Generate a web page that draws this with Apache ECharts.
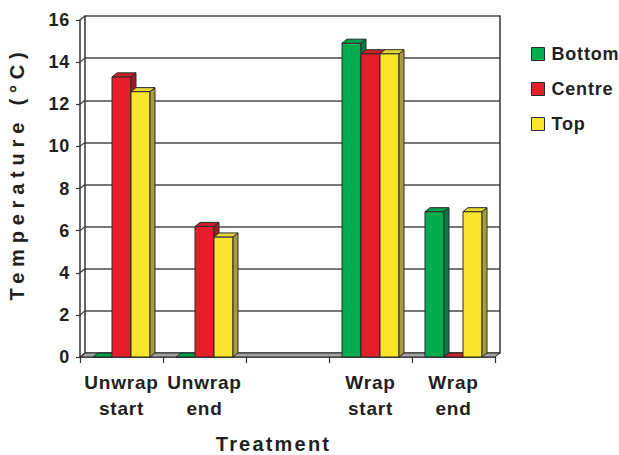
<!DOCTYPE html>
<html>
<head>
<meta charset="utf-8">
<script src="https://cdn.jsdelivr.net/npm/echarts@6/dist/echarts.min.js"></script>
<style>
  html, body { margin: 0; padding: 0; background: #ffffff; }
  #chart { width: 619px; height: 455px; }
  #chart svg text { letter-spacing: 0.8px; }
</style>
</head>
<body>
<div id="chart"></div>
<script>
// Treatment categories (the blank one is an empty slot on the axis)
const categories = ['Unwrap\nstart', 'Unwrap\nend', '', 'Wrap\nstart', 'Wrap\nend'];
const seriesNames = ['Bottom', 'Centre', 'Top'];

// Temperatures (°C) per position in the stack
const bottomTemps = [0, 0, null, 14.9, 6.9];
const centreTemps = [13.3, 6.2, null, 14.4, 0];
const topTemps = [12.6, 5.7, null, 14.4, 6.9];

const yTicks = [0, 2, 4, 6, 8, 10, 12, 14, 16];

const xTitle = 'Treatment';
const yTitle = 'Temperature (°C)';

// Pseudo-3D geometry: depth offset of the back plane and bar width
const DX = 5, DY = 4;
const BAR_W = 19;
const FONT = '"Liberation Sans", Arial, Helvetica, sans-serif';
const INK = '#231f20';
const EDGE = '#2a2a2a';

const palettes = [
  { front: '#00ad4e', top: '#00a04a', side: '#0b7a40' },
  { front: '#e41f2c', top: '#c82029', side: '#9c1e24' },
  { front: '#f8e52c', top: '#e8d634', side: '#a69b3e' }
];

function toPairs(values) {
  return values.map((v, i) => [i, v == null ? '-' : v]);
}

// Each bar: front face, right side face and top face
function barRenderer(idx) {
  const pal = palettes[idx];
  return function (params, api) {
    const v = api.value(1);
    if (v == null || isNaN(v)) return null;
    const cat = api.value(0);
    const base = api.coord([cat, 0]);
    const tip = api.coord([cat, v]);
    const x = base[0] - (BAR_W * 3) / 2 + idx * BAR_W;
    const yb = base[1], yt = tip[1];
    const line = { stroke: EDGE, lineWidth: 1, lineJoin: 'round' };
    return {
      type: 'group',
      children: [
        {
          type: 'rect',
          shape: { x: x, y: yt, width: BAR_W, height: yb - yt },
          style: Object.assign({ fill: pal.front }, line)
        },
        {
          type: 'polygon',
          shape: { points: [[x + BAR_W, yt], [x + BAR_W + DX, yt - DY], [x + BAR_W + DX, yb - DY], [x + BAR_W, yb]] },
          style: Object.assign({ fill: pal.side }, line)
        },
        {
          type: 'polygon',
          shape: { points: [[x, yt], [x + DX, yt - DY], [x + BAR_W + DX, yt - DY], [x + BAR_W, yt]] },
          style: Object.assign({ fill: pal.top }, line)
        }
      ]
    };
  };
}

// Grey floor slab under the bars
function floorRenderer(params, api) {
  const band = api.size([1, 0])[0];
  const first = api.coord([0, 0]);
  const last = api.coord([categories.length - 1, 0]);
  const l = first[0] - band / 2, r = last[0] + band / 2, y = first[1];
  return {
    type: 'polygon',
    shape: { points: [[l, y], [r, y], [r + DX, y - DY], [l + DX, y - DY]] },
    style: { fill: '#a4a4a4', stroke: EDGE, lineWidth: 1 }
  };
}

// Short diagonals joining front value ticks to the back wall
function tickLinkRenderer(params, api) {
  const band = api.size([1, 0])[0];
  const p = api.coord([0, api.value(1)]);
  const x0 = p[0] - band / 2;
  return {
    type: 'line',
    shape: { x1: x0, y1: p[1], x2: x0 + DX, y2: p[1] - DY },
    style: { stroke: '#333', lineWidth: 1.2 }
  };
}

const chartEl = document.getElementById('chart');
const chart = echarts.init(chartEl, null, { renderer: 'svg' });

const valueSets = [bottomTemps, centreTemps, topTemps];

// Wider tracking on the two axis titles
function spaceTitles() {
  chartEl.querySelectorAll('text').forEach(t => {
    const s = t.textContent;
    if (s === yTitle) t.style.letterSpacing = '5.8px';
    else if (s === xTitle) t.style.letterSpacing = '2.2px';
  });
}

chart.setOption({
  animation: false,
  backgroundColor: '#ffffff',
  textStyle: { fontFamily: FONT },
  grid: [
    { left: 80, top: 20, width: 415, height: 337, outerBoundsMode: 'none', containLabel: false },
    { left: 85, top: 16, width: 415, height: 337, outerBoundsMode: 'none', containLabel: false }
  ],
  legend: {
    orient: 'vertical',
    left: 531,
    top: 44,
    itemWidth: 13,
    itemHeight: 13,
    itemGap: 15,
    padding: 0,
    icon: 'rect',
    itemStyle: { borderColor: EDGE, borderWidth: 1 },
    textStyle: { fontFamily: FONT, fontSize: 18, fontWeight: 'bold', color: INK, lineHeight: 20, padding: [0, 0, 0, 2] },
    data: seriesNames,
    selectedMode: false
  },
  xAxis: [
    {
      type: 'category',
      gridIndex: 0,
      data: categories,
      boundaryGap: true,
      axisLine: { show: true, lineStyle: { color: '#333', width: 1.5 } },
      axisTick: { show: true, length: 6, alignWithLabel: false, lineStyle: { color: '#333', width: 1.2 } },
      axisLabel: { fontFamily: FONT, fontSize: 19, fontWeight: 'bold', color: INK, lineHeight: 26, margin: 12, interval: 0 },
      splitLine: { show: false },
      name: xTitle,
      nameLocation: 'middle',
      nameGap: 77,
      nameTextStyle: { fontFamily: FONT, fontSize: 20, fontWeight: 'bold', color: INK, padding: [0, 28, 0, 0] }
    },
    {
      type: 'category',
      gridIndex: 1,
      data: categories,
      show: false
    }
  ],
  yAxis: [
    {
      type: 'value',
      gridIndex: 0,
      min: 0,
      max: 16,
      interval: 2,
      axisLine: { show: true, lineStyle: { color: '#333', width: 1.5 } },
      axisTick: { show: true, length: 4, lineStyle: { color: '#333', width: 1.2 } },
      axisLabel: { fontFamily: FONT, fontSize: 18, fontWeight: 'bold', color: INK, margin: 10 },
      splitLine: { show: false },
      name: yTitle,
      nameLocation: 'middle',
      nameGap: 53,
      nameTextStyle: { fontFamily: FONT, fontSize: 20, fontWeight: 'bold', color: INK, padding: [0, 0, 0, 30] }
    },
    {
      type: 'value',
      gridIndex: 1,
      min: 0,
      max: 16,
      interval: 2,
      axisLine: { show: true, lineStyle: { color: '#333', width: 1.5 } },
      axisTick: { show: false },
      axisLabel: { show: false },
      splitLine: { show: true, lineStyle: { color: '#4a4a4a', width: 1.5 } }
    },
    {
      type: 'value',
      gridIndex: 1,
      position: 'right',
      min: 0,
      max: 16,
      interval: 2,
      axisLine: { show: true, onZero: false, lineStyle: { color: '#333', width: 1.5 } },
      axisTick: { show: false },
      axisLabel: { show: false },
      splitLine: { show: false }
    }
  ],
  series: [
    {
      type: 'custom',
      name: 'floor',
      xAxisIndex: 0,
      yAxisIndex: 0,
      data: [[0, 0]],
      renderItem: floorRenderer,
      clip: false,
      silent: true,
      z: 1
    },
    {
      type: 'custom',
      name: 'tickLinks',
      xAxisIndex: 0,
      yAxisIndex: 0,
      data: yTicks.map(v => [0, v]),
      renderItem: tickLinkRenderer,
      clip: false,
      silent: true,
      z: 1
    }
  ].concat(seriesNames.map((name, i) => ({
    type: 'custom',
    name: name,
    xAxisIndex: 0,
    yAxisIndex: 0,
    data: toPairs(valueSets[i]),
    encode: { x: 0, y: 1 },
    renderItem: barRenderer(i),
    itemStyle: { color: palettes[i].front, borderColor: EDGE, borderWidth: 1 },
    clip: false,
    silent: true,
    z: 3 + i
  })))
});

chart.on('finished', spaceTitles);
spaceTitles();
setTimeout(spaceTitles, 0);
</script>
</body>
</html>
